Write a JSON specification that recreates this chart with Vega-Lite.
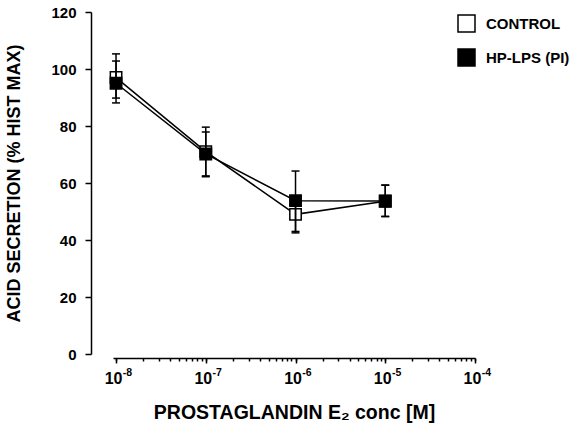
{
  "$schema": "https://vega.github.io/schema/vega-lite/v6.json",
  "autosize": "none",
  "width": 362,
  "height": 342,
  "padding": {"left": 113, "top": 12, "right": 100, "bottom": 79},
  "background": "white",
  "config": {
    "font": "Liberation Sans",
    "view": {"stroke": null},
    "axis": {"grid": false, "domainColor": "black", "tickColor": "black", "labelColor": "black", "titleColor": "black"}
  },
  "data": {
    "values": [
      {"x": 1e-8, "group": "CONTROL", "y": 97, "lo": 89.8, "hi": 105.3},
      {"x": 1e-7, "group": "CONTROL", "y": 71, "lo": 62.5, "hi": 79.6},
      {"x": 1e-6, "group": "CONTROL", "y": 49, "lo": 42.5, "hi": 55.5},
      {"x": 1e-5, "group": "CONTROL", "y": 53.6, "lo": 48.3, "hi": 59.2},
      {"x": 1e-8, "group": "HP-LPS (PI)", "y": 95, "lo": 88.1, "hi": 102.8},
      {"x": 1e-7, "group": "HP-LPS (PI)", "y": 70.2, "lo": 62.2, "hi": 77.9},
      {"x": 1e-6, "group": "HP-LPS (PI)", "y": 53.8, "lo": 43, "hi": 64.2},
      {"x": 1e-5, "group": "HP-LPS (PI)", "y": 53.7, "lo": 48.2, "hi": 59.3}
    ]
  },
  "resolve": {"axis": {"x": "independent"}},
  "encoding": {
    "y": {
      "field": "y", "type": "quantitative",
      "scale": {"domain": [0, 120], "nice": false},
      "axis": {
        "offset": 22,
        "values": [0, 20, 40, 60, 80, 100, 120],
        "tickSize": 6,
        "tickWidth": 1.5,
        "domainWidth": 1.5,
        "labelFontSize": 15,
        "labelFontWeight": "bold",
        "labelPadding": 9,
        "title": "ACID SECRETION (% HIST MAX)",
        "titleFontSize": 18,
        "titleFontWeight": "bold",
        "titlePadding": 27
      }
    }
  },
  "layer": [
    {
      "mark": {"type": "line", "color": "black", "strokeWidth": 1.5},
      "encoding": {
        "x": {
          "field": "x", "type": "quantitative",
          "scale": {"type": "log", "domain": [9.25e-9, 1e-4], "nice": false},
          "axis": {
            "orient": "bottom",
            "offset": 4,
            "values": [1e-8, 1e-7, 1e-6, 1e-5, 1e-4],
            "tickCount": 100,
            "labelExpr": "'10'",
            "tickSize": 5,
            "tickWidth": 1.5,
            "domainWidth": 1.5,
            "labelFontSize": 16,
            "labelFontWeight": "bold",
            "labelPadding": 7,
            "labelOffset": -3,
            "labelOverlap": false,
            "labelFlush": false,
            "title": "PROSTAGLANDIN E₂ conc [M]",
            "titleFontSize": 19.5,
            "titleFontWeight": "bold",
            "titlePadding": 17
          }
        },
        "detail": {"field": "group"}
      }
    },
    {
      "mark": {"type": "point", "shape": "square", "filled": true, "stroke": "black", "strokeWidth": 1.5, "size": 130, "opacity": 1},
      "encoding": {
        "x": {"field": "x", "type": "quantitative", "axis": null},
        "fill": {
          "field": "group", "type": "nominal",
          "scale": {"domain": ["CONTROL", "HP-LPS (PI)"], "range": ["white", "black"]},
          "legend": {
            "title": null,
            "orient": "none",
            "legendX": 344,
            "legendY": 2,
            "symbolType": "square",
            "symbolSize": 289,
            "symbolStrokeColor": "black",
            "symbolStrokeWidth": 1.5,
            "labelFontSize": 15,
            "labelFontWeight": "bold",
            "labelColor": "black",
            "labelOffset": 10,
            "rowPadding": 11
          }
        },
        "order": {"field": "group"}
      }
    },
    {
      "mark": {"type": "rule", "color": "black", "strokeWidth": 1.5},
      "encoding": {
        "x": {
          "field": "x", "type": "quantitative",
          "axis": {
            "orient": "bottom",
            "offset": 4,
            "values": [1e-8, 1e-7, 1e-6, 1e-5, 1e-4],
            "tickCount": 100,
            "labelExpr": "'-' + format(-round(log(datum.value)/LN10), 'd')",
            "domain": false,
            "ticks": false,
            "labelFontSize": 10.5,
            "labelFontWeight": "bold",
            "labelPadding": 9,
            "labelOffset": 11,
            "labelOverlap": false,
            "labelFlush": false,
            "title": null
          }
        },
        "y": {"field": "lo", "type": "quantitative"},
        "y2": {"field": "hi"}
      }
    },
    {
      "mark": {"type": "tick", "orient": "horizontal", "color": "black", "size": 8, "thickness": 1.5, "opacity": 1},
      "encoding": {
        "x": {
          "field": "x", "type": "quantitative",
          "axis": {
            "orient": "bottom",
            "offset": 4,
            "tickCount": 40,
            "domain": false,
            "labels": false,
            "ticks": true,
            "tickSize": 3,
            "tickWidth": 1.5,
            "title": null
          }
        },
        "y": {"field": "lo", "type": "quantitative"}
      }
    },
    {
      "mark": {"type": "tick", "orient": "horizontal", "color": "black", "size": 8, "thickness": 1.5, "opacity": 1},
      "encoding": {
        "x": {"field": "x", "type": "quantitative", "axis": null},
        "y": {"field": "hi", "type": "quantitative"}
      }
    }
  ]
}
